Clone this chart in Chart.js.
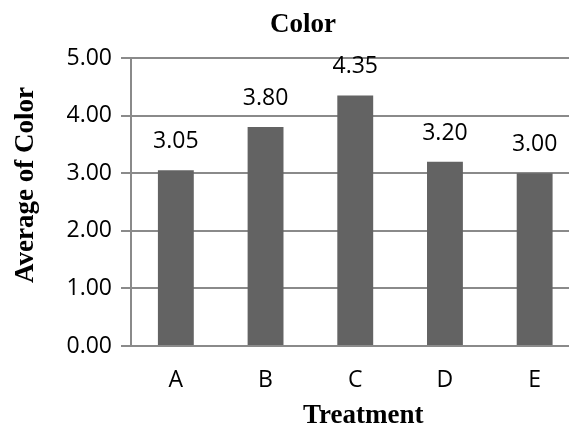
<!DOCTYPE html>
<html>
<head>
<meta charset="utf-8">
<script src="https://cdn.jsdelivr.net/npm/chart.js@4/dist/chart.umd.min.js"></script>
<style>
  html, body { margin: 0; padding: 0; background: #fff; overflow: hidden; }
  #wrap { position: absolute; left: 0; top: 0; width: 606px; height: 428px; }
</style>
</head>
<body>
<div id="wrap"><canvas id="chart" width="606" height="428"></canvas></div>
<script>
// Average colour score per treatment
const categories = ['A', 'B', 'C', 'D', 'E'];
const averageColor = [3.05, 3.80, 4.35, 3.20, 3.00];
const yTicks = [0, 1, 2, 3, 4, 5];

const chartTitle = 'Color';
const xTitle = 'Treatment';
const yTitle = 'Average of Color';

const SERIF = '"Liberation Serif", "Times New Roman", serif';
const SANS = '"Open Sans", "Liberation Sans", sans-serif';
const GRID = '#8a8a8a';
const BAR = '#636363';

// Value labels above each bar
const valueLabels = {
  id: 'valueLabels',
  afterDatasetsDraw(chart) {
    const ctx = chart.ctx;
    const meta = chart.getDatasetMeta(0);
    const data = chart.data.datasets[0].data;
    ctx.save();
    ctx.font = '23px ' + SANS;
    ctx.fillStyle = '#000';
    ctx.textAlign = 'center';
    ctx.textBaseline = 'alphabetic';
    meta.data.forEach((bar, i) => {
      ctx.fillText(Number(data[i]).toFixed(2), bar.x, bar.y - 22);
    });
    ctx.restore();
  }
};

// Chart title and axis titles placed around the plot area
const titles = {
  id: 'titles',
  afterDraw(chart) {
    const ctx = chart.ctx;
    const area = chart.chartArea;
    ctx.save();
    ctx.font = 'bold 27px ' + SERIF;
    ctx.fillStyle = '#000';
    ctx.textAlign = 'center';
    ctx.textBaseline = 'alphabetic';
    ctx.fillText(chartTitle, chart.width / 2, area.top - 26);
    ctx.fillText(xTitle, (area.left + area.right) / 2 + 8, area.bottom + 77);
    ctx.translate(32.5, (area.top + area.bottom) / 2 - 17);
    ctx.rotate(-Math.PI / 2);
    ctx.fillText(yTitle, 0, 0);
    ctx.restore();
  }
};

new Chart(document.getElementById('chart'), {
  type: 'bar',
  data: {
    labels: categories,
    datasets: [{
      data: averageColor,
      backgroundColor: BAR,
      borderWidth: 0,
      barPercentage: 0.4,
      categoryPercentage: 1.0
    }]
  },
  options: {
    responsive: false,
    animation: false,
    devicePixelRatio: 1,
    layout: { padding: { left: 0, right: 26.5, top: 58, bottom: 0 } },
    plugins: {
      legend: { display: false },
      tooltip: { enabled: false },
      title: { display: false }
    },
    scales: {
      x: {
        grid: { display: false, drawTicks: false },
        border: { display: false },
        ticks: {
          color: '#000',
          font: { family: SANS, size: 23 },
          padding: 21
        },
        afterFit(scale) { scale.height = 82; }
      },
      y: {
        min: 0,
        max: 5,
        afterBuildTicks(scale) { scale.ticks = yTicks.map(v => ({ value: v })); },
        grid: { color: GRID, lineWidth: 2, tickLength: 10, drawTicks: true },
        border: { display: true, color: GRID, width: 2 },
        ticks: {
          color: '#000',
          font: { family: SANS, size: 23 },
          padding: 9,
          callback: v => Number(v).toFixed(2)
        },
        afterFit(scale) { scale.width = 131; }
      }
    }
  },
  plugins: [valueLabels, titles]
});
</script>
</body>
</html>
